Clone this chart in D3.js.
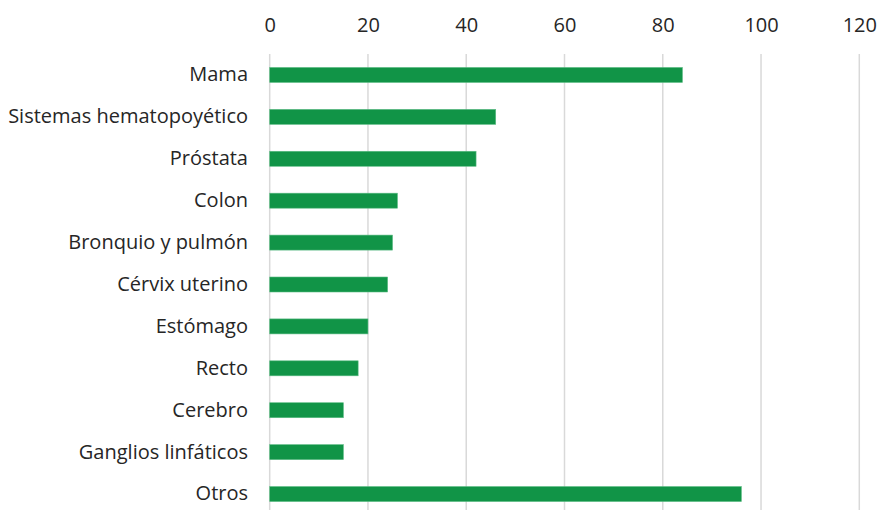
<!DOCTYPE html>
<html><head><meta charset="utf-8">
<script src="https://cdn.jsdelivr.net/npm/d3@7"></script>
<style>body{margin:0;background:#fff}svg{display:block}</style>
</head><body>
<svg id="chart" width="879" height="510"></svg>
<script>
const categories = ["Mama","Sistemas hematopoyético","Próstata","Colon","Bronquio y pulmón","Cérvix uterino","Estómago","Recto","Cerebro","Ganglios linfáticos","Otros"];
const values = [84,46,42,26,25,24,20,18,15,15,96];
const tickValues = [0,20,40,60,80,100,120];

const svg = d3.select("#chart");
const font = "'Open Sans', 'Liberation Sans', sans-serif";
const x = d3.scaleLinear().domain([0,120]).range([269.7,859.3]);
const yc = d3.scaleBand().domain(categories).range([54,515]);

// gridlines
svg.append("g").selectAll("line").data(tickValues).join("line")
  .attr("x1",d=>x(d)).attr("x2",d=>x(d)).attr("y1",54).attr("y2",510)
  .attr("stroke","#d9d9d9").attr("stroke-width",1.5);

// top axis labels
const xAxis = d3.axisTop(x).tickValues(tickValues).tickSize(0).tickPadding(0);
const gx = svg.append("g").attr("transform","translate(0,32)").call(xAxis);
gx.select(".domain").remove();
gx.selectAll("text").attr("font-family",font).attr("font-size",20).attr("fill","#262626");

// bars
svg.append("g").selectAll("rect").data(categories).join("rect")
  .attr("x",x(0)).attr("y",d=>yc(d)+yc.bandwidth()/2-7.5)
  .attr("width",(d,i)=>x(values[i])-x(0)).attr("height",15)
  .attr("fill","#119447").attr("stroke","#5cbb84").attr("stroke-width",0.6);

// category labels
const yAxis = d3.axisLeft(yc).tickSize(0).tickPadding(0);
const gy = svg.append("g").attr("transform","translate(248,0)").call(yAxis);
gy.select(".domain").remove();
gy.selectAll("text").attr("font-family",font).attr("font-size",20).attr("fill","#262626");
</script>
</body></html>
